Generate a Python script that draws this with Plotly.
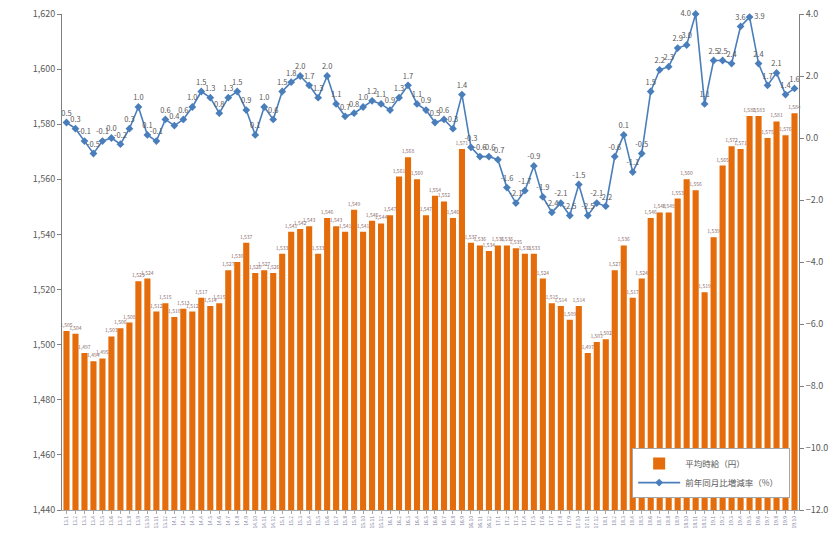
import plotly.graph_objects as go

# months: Jan 2013 .. Oct 2019 (82 points)
years = [13, 14, 15, 16, 17, 18, 19]
months = [f"{y}.{m}" for y in years for m in range(1, 13)][:82]

# average hourly wage (yen)
wage = [1505, 1504, 1497, 1494, 1495, 1503, 1506, 1508, 1523, 1524, 1512, 1515,
        1510, 1513, 1512, 1517, 1514, 1515, 1527, 1530, 1537, 1526, 1527, 1526,
        1533, 1541, 1542, 1543, 1533, 1546, 1543, 1541, 1549, 1541, 1545, 1544,
        1547, 1561, 1568, 1560, 1547, 1554, 1552, 1546, 1571, 1537, 1536, 1534,
        1536, 1536, 1535, 1533, 1533, 1524, 1515, 1514, 1509, 1514, 1497, 1501,
        1502, 1527, 1536, 1517, 1524, 1546, 1548, 1548, 1553, 1560, 1556, 1519,
        1539, 1565, 1572, 1571, 1583, 1583, 1575, 1581, 1576, 1584]

# year-on-year change (%)
yoy = [0.5, 0.3, -0.1, -0.5, -0.1, 0.0, -0.2, 0.3, 1.0, 0.1, -0.1, 0.6,
       0.4, 0.6, 1.0, 1.5, 1.3, 0.8, 1.3, 1.5, 0.9, 0.1, 1.0, 0.6,
       1.5, 1.8, 2.0, 1.7, 1.3, 2.0, 1.1, 0.7, 0.8, 1.0, 1.2, 1.1,
       0.9, 1.3, 1.7, 1.1, 0.9, 0.5, 0.6, 0.3, 1.4, -0.3, -0.6, -0.6,
       -0.7, -1.6, -2.1, -1.7, -0.9, -1.9, -2.4, -2.1, -2.5, -1.5, -2.5, -2.1,
       -2.2, -0.6, 0.1, -1.1, -0.5, 1.5, 2.2, 2.3, 2.9, 3.0, 4.0, 1.1,
       2.5, 2.5, 2.4, 3.6, 3.9, 2.4, 1.7, 2.1, 1.4, 1.6]

ORANGE = "#E46C0A"
BLUE = "#4A7EBB"
GREY = "#595959"
FONT = "Noto Sans CJK JP"

# labels at the very top would leave the page, put them beside the point
label_pos = ["top center"] * len(yoy)
for i, v in enumerate(yoy):
    if v >= 4.0:
        label_pos[i] = "middle left"
    elif v >= 3.8:
        label_pos[i] = "middle right"

fig = go.Figure()

fig.add_trace(go.Bar(
    x=months, y=wage,
    name="平均時給（円）",
    marker=dict(color=ORANGE, line=dict(width=0)),
    texttemplate="%{y:,}",
    textposition="outside",
    constraintext="none",
    cliponaxis=False,
    textfont=dict(size=5, color="#8c6f6f"),
))

fig.add_trace(go.Scatter(
    x=months, y=yoy,
    name="前年同月比増減率（%）\u00a0\u00a0\u00a0",
    yaxis="y2",
    mode="lines+markers+text",
    line=dict(color=BLUE, width=1.6),
    marker=dict(symbol="diamond", size=6, color=BLUE),
    text=[f"{v:.1f}" for v in yoy],
    textposition=label_pos,
    textfont=dict(size=7.5, color=GREY),
    cliponaxis=False,
))

# page body adds ~8px offset, so margins are shifted to land where the reference has them
fig.update_layout(
    width=840, height=538,
    margin=dict(l=54, r=49, t=6, b=36),
    paper_bgcolor="white",
    plot_bgcolor="white",
    font=dict(family=FONT, color=GREY, size=9),
    bargap=0.32,
    showlegend=True,
    legend=dict(
        x=0.988, y=0.024, xanchor="right", yanchor="bottom",
        bgcolor="white", bordercolor="#A6A6A6", borderwidth=1,
        font=dict(size=8.5, color=GREY),
        itemwidth=42,
        tracegroupgap=4,
    ),
    xaxis=dict(
        type="category", automargin=False,
        range=[-0.5, len(months) - 0.5],
        tickmode="array", tickvals=months, ticktext=months,
        tickangle=-90,
        tickfont=dict(size=5, color="#7f7f9f"),
        showline=True, linecolor="#A6A6A6", linewidth=1,
        ticks="outside", ticklen=3, tickcolor="#A6A6A6",
        showgrid=False,
    ),
    yaxis=dict(
        range=[1440, 1620], dtick=20, tickformat=",", automargin=False,
        ticklabeloverflow="allow",
        showline=True, linecolor="#7f7f7f", linewidth=1,
        ticks="outside", ticklen=4, tickcolor="#7f7f7f",
        showgrid=False, zeroline=False,
        tickfont=dict(size=9, color=GREY),
    ),
    yaxis2=dict(
        range=[-12, 4], dtick=2, tickformat=".1f", automargin=False,
        ticklabeloverflow="allow",
        overlaying="y", side="right",
        showline=True, linecolor="#7f7f7f", linewidth=1,
        ticks="outside", ticklen=4, tickcolor="#7f7f7f",
        showgrid=False, zeroline=False,
        tickfont=dict(size=9, color=GREY),
    ),
)

fig.write_html("out.html")
